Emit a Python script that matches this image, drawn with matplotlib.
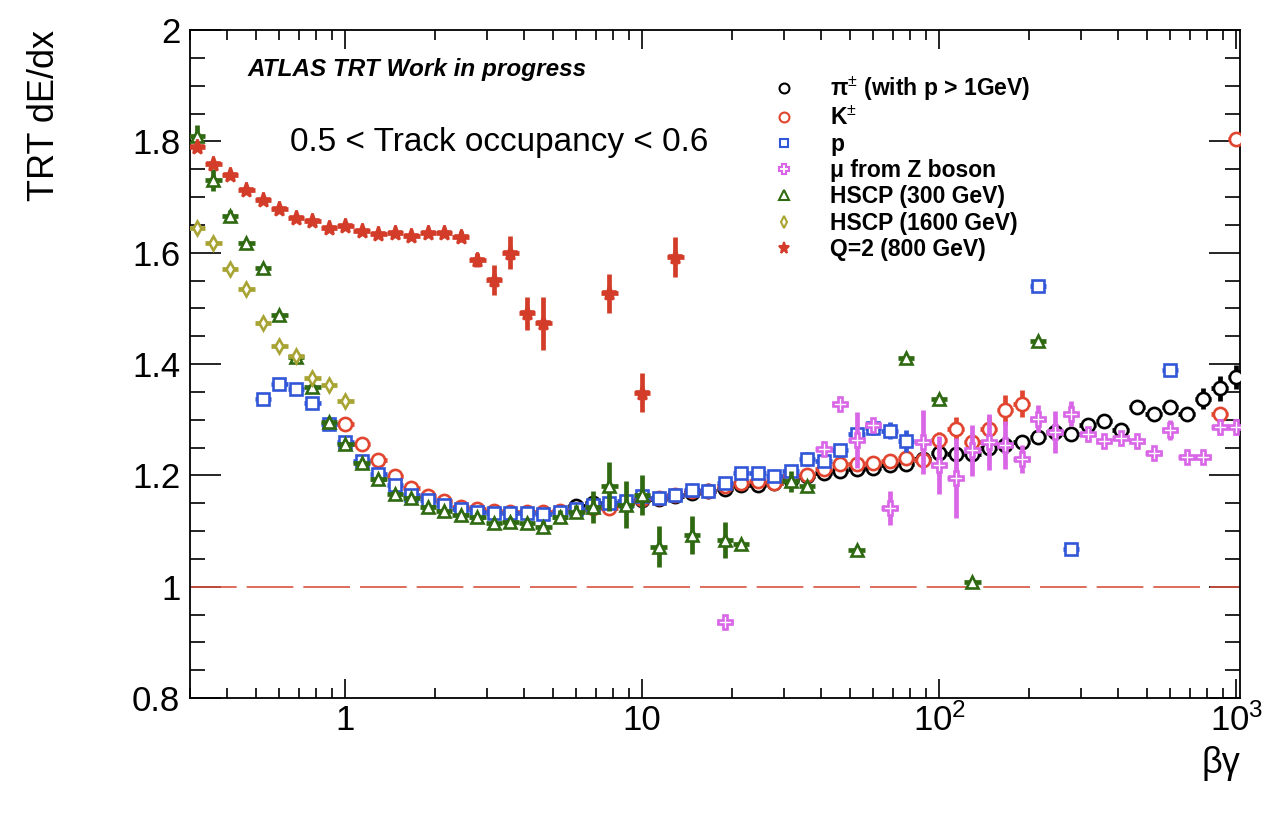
import numpy as np
import matplotlib.pyplot as plt
from matplotlib.lines import Line2D
from matplotlib.ticker import MultipleLocator, LogLocator, NullFormatter

plt.rcParams["font.family"] = ["Liberation Sans", "DejaVu Sans"]
plt.rcParams["mathtext.fontset"] = "custom"
plt.rcParams["mathtext.rm"] = "Liberation Sans"
plt.rcParams["mathtext.it"] = "Liberation Sans:italic"
plt.rcParams["mathtext.bf"] = "Liberation Sans:bold"

# beta*gamma bin centres, index 0 is bin -9 (18 bins per decade)
bg_bins = [0.3162, 0.3594, 0.4084, 0.4642, 0.5275, 0.5995, 0.6813, 0.7743, 0.8799,
           1.000, 1.136, 1.292, 1.468, 1.668, 1.896, 2.154, 2.448, 2.783, 3.162,
           3.594, 4.084, 4.642, 5.275, 5.995, 6.813, 7.743, 8.799, 10.00, 11.36,
           12.92, 14.68, 16.68, 18.96, 21.54, 24.48, 27.83, 31.62, 35.94, 40.84,
           46.42, 52.75, 59.95, 68.13, 77.43, 87.99, 100.0, 113.6, 129.2, 146.8,
           166.8, 189.6, 215.4, 244.8, 278.3, 316.2, 359.4, 408.4, 464.2, 527.5,
           599.5, 681.3, 774.3, 879.9, 1000.0]

# pions (p > 1 GeV)
pi_bins = list(range(14, 55))
pi_y = [1.145, 1.150, 1.148, 1.150, 1.156, 1.158, 1.163, 1.168, 1.171, 1.175,
        1.183, 1.183, 1.187, 1.192, 1.198, 1.205, 1.207, 1.211, 1.213, 1.219,
        1.221, 1.230, 1.241, 1.238, 1.238, 1.249, 1.255, 1.260, 1.268, 1.277,
        1.275, 1.291, 1.298, 1.281, 1.323, 1.310, 1.323, 1.310, 1.338, 1.356, 1.377]
pi_err = [0.004, 0.004, 0.004, 0.004, 0.004, 0.004, 0.004, 0.004, 0.004, 0.004,
          0.004, 0.004, 0.004, 0.004, 0.004, 0.004, 0.004, 0.004, 0.004, 0.004,
          0.004, 0.004, 0.004, 0.004, 0.004, 0.004, 0.004, 0.004, 0.005, 0.005,
          0.005, 0.007, 0.007, 0.007, 0.012, 0.012, 0.012, 0.012, 0.018, 0.022, 0.022]

# kaons
k_bins = list(range(0, 42)) + [53, 54]
k_y = [1.292, 1.257, 1.228, 1.199, 1.178, 1.162, 1.153, 1.143, 1.140, 1.136,
       1.135, 1.134, 1.134, 1.136, 1.138, 1.141, 1.141, 1.150, 1.157, 1.159,
       1.165, 1.171, 1.172, 1.180, 1.186, 1.189, 1.186, 1.198, 1.201, 1.211,
       1.221, 1.221, 1.222, 1.225, 1.232, 1.228, 1.263, 1.284, 1.260, 1.284,
       1.317, 1.329, 1.310, 1.804]
k_err = [0.003, 0.003, 0.003, 0.003, 0.003, 0.003, 0.003, 0.003, 0.003, 0.003,
         0.003, 0.003, 0.003, 0.003, 0.003, 0.003, 0.003, 0.003, 0.003, 0.003,
         0.003, 0.003, 0.003, 0.003, 0.003, 0.003, 0.003, 0.003, 0.004, 0.004,
         0.006, 0.006, 0.006, 0.006, 0.010, 0.015, 0.015, 0.020, 0.015, 0.022,
         0.027, 0.025, 0.008, 0.006]

# protons
p_bins = list(range(-5, 35)) + [42, 44, 50]
p_y = [1.337, 1.364, 1.355, 1.330, 1.293,
       1.259, 1.225, 1.203, 1.183, 1.165, 1.156, 1.147, 1.139, 1.135, 1.132,
       1.132, 1.132, 1.131, 1.135, 1.140, 1.147, 1.150, 1.153, 1.162, 1.160,
       1.165, 1.174, 1.172, 1.186, 1.205, 1.204, 1.198, 1.207, 1.229, 1.225,
       1.245, 1.275, 1.285, 1.280, 1.262,
       1.541, 1.068, 1.390]
p_err = [0.005, 0.005, 0.005, 0.005, 0.005,
         0.004, 0.004, 0.004, 0.004, 0.004, 0.004, 0.004, 0.004, 0.004, 0.004,
         0.004, 0.004, 0.004, 0.004, 0.004, 0.004, 0.004, 0.004, 0.004, 0.004,
         0.005, 0.005, 0.005, 0.006, 0.008, 0.008, 0.008, 0.008, 0.013, 0.010,
         0.012, 0.012, 0.012, 0.015, 0.020,
         0.005, 0.005, 0.005]

# muons from Z
mu_bins = [23, 29, 30, 31, 32, 33] + list(range(35, 55))
mu_y = [0.936, 1.248, 1.329, 1.263, 1.290, 1.141,
        1.260, 1.219, 1.195, 1.245, 1.260, 1.255, 1.230, 1.302, 1.278, 1.311,
        1.275, 1.262, 1.267, 1.262, 1.241, 1.281, 1.233, 1.233, 1.287, 1.287]
mu_err = [0.006, 0.006, 0.005, 0.050, 0.008, 0.031,
          0.058, 0.052, 0.072, 0.046, 0.051, 0.043, 0.025, 0.025, 0.038, 0.023,
          0.012, 0.010, 0.010, 0.008, 0.008, 0.018, 0.008, 0.008, 0.015, 0.015]

# HSCP 300 GeV
h300_bins = list(range(-9, 20)) + [21, 23, 24, 27, 28, 31, 34, 36, 38, 42]
h300_y = [1.810, 1.730, 1.666, 1.617, 1.572, 1.488, 1.413, 1.359, 1.296,
          1.257, 1.223, 1.193, 1.166, 1.160, 1.143, 1.136, 1.129, 1.125, 1.114,
          1.117, 1.114, 1.108, 1.126, 1.135, 1.143, 1.180, 1.147, 1.165, 1.072,
          1.093, 1.084, 1.077, 1.189, 1.180, 1.066, 1.411, 1.338, 1.008, 1.441]
h300_err = [0.020, 0.020, 0.010, 0.008, 0.008, 0.006, 0.006, 0.005, 0.005,
            0.004, 0.004, 0.004, 0.004, 0.004, 0.004, 0.004, 0.004, 0.005, 0.005,
            0.008, 0.008, 0.010, 0.012, 0.012, 0.028, 0.044, 0.042, 0.036, 0.037,
            0.034, 0.033, 0.005, 0.019, 0.006, 0.005, 0.005, 0.005, 0.005, 0.005]

# HSCP 1600 GeV
h1600_bins = list(range(-9, 1))
h1600_y = [1.644, 1.618, 1.570, 1.534, 1.474, 1.432, 1.415, 1.374, 1.362, 1.334]
h1600_err = [0.005, 0.005, 0.005, 0.005, 0.005, 0.005, 0.005, 0.005, 0.005, 0.005]

# Q=2 800 GeV
q2_bins = list(range(-9, 13)) + [16, 18, 20]
q2_y = [1.790, 1.760, 1.740, 1.712, 1.695, 1.678, 1.663, 1.657, 1.645, 1.648,
        1.639, 1.633, 1.635, 1.630, 1.636, 1.636, 1.629, 1.587, 1.551, 1.600,
        1.491, 1.473, 1.527, 1.348, 1.592]
q2_err = [0.006, 0.005, 0.004, 0.004, 0.004, 0.004, 0.004, 0.004, 0.004, 0.004,
          0.004, 0.004, 0.004, 0.005, 0.006, 0.008, 0.010, 0.012, 0.027, 0.030,
          0.030, 0.048, 0.035, 0.035, 0.036]

labels = [r"π$^{\pm}$ (with p > 1GeV)", r"K$^{\pm}$", "p", "μ from Z boson",
          "HSCP (300 GeV)", "HSCP (1600 GeV)", "Q=2 (800 GeV)"]

yticks = [0.8, 1.0, 1.2, 1.4, 1.6, 1.8, 2.0]
ytick_labels = ["0.8", "1", "1.2", "1.4", "1.6", "1.8", "2"]
xticks = [1, 10, 100, 1000]
xtick_labels = ["1", "10", r"10$^{2}$", r"10$^{3}$"]

series = [
    (pi_bins, pi_y, pi_err, "o", "#000000", 9.5, True),
    (k_bins, k_y, k_err, "o", "#e2452f", 9.5, True),
    (p_bins, p_y, p_err, "s", "#3156d8", 8.5, True),
    (mu_bins, mu_y, mu_err, "P", "#d966e6", 10, True),
    (h300_bins, h300_y, h300_err, "^", "#2f6a12", 9, True),
    (h1600_bins, h1600_y, h1600_err, "d", "#a8a434", 7.5, True),
    (q2_bins, q2_y, q2_err, "*", "#d23c28", 11, False),
]

fig = plt.figure(figsize=(12.85, 8.13), dpi=100)
ax = fig.add_axes([190 / 1285, 115 / 813, 1050 / 1285, 668 / 813])

half = 10 ** (1 / 36)
handles = []
for i, (bins, y, err, mk, col, ms, is_open) in enumerate(series):
    x = np.array([bg_bins[b + 9] for b in bins])
    xerr = [x - x / half, x * half - x]
    ax.errorbar(x, y, yerr=err, xerr=xerr, fmt=mk, ls="none", color=col,
                ms=ms, mfc="white" if is_open else col, mec=col, mew=1.9,
                elinewidth=3.4, capsize=0, zorder=3 + i)
    handles.append(Line2D([], [], marker=mk, ls="none", color=col,
                          ms=ms * 0.75, mfc="white" if is_open else col,
                          mec=col, mew=1.5))

ax.axhline(1.0, color="#d9533f", lw=1.2, dashes=(28, 6), zorder=2)

ax.set_xscale("log")
ax.set_xlim(0.3, 1030)
ax.set_ylim(0.8, 2.0)

ax.set_xticks(xticks, xtick_labels)
ax.xaxis.set_minor_locator(LogLocator(base=10, subs=range(2, 10)))
ax.xaxis.set_minor_formatter(NullFormatter())
ax.set_yticks(yticks, ytick_labels)
ax.yaxis.set_minor_locator(MultipleLocator(0.05))

ax.tick_params(which="both", direction="in", top=True, right=True, width=1.2,
               labelsize=25)
ax.tick_params(axis="y", which="major", length=22, pad=7)
ax.tick_params(axis="y", which="minor", length=11)
ax.tick_params(axis="x", which="major", length=14, pad=4)
ax.tick_params(axis="x", which="minor", length=7)
for s in ax.spines.values():
    s.set_linewidth(1.3)

ax.set_ylabel("TRT dE/dx", fontsize=26, loc="top")
ax.yaxis.set_label_coords(-0.122, 1.0)
ax.set_xlabel("βγ", fontsize=26, loc="right")
ax.xaxis.set_label_coords(1.0, -0.072)

ax.text(0.055, 0.941, "ATLAS TRT Work in progress", transform=ax.transAxes,
        fontsize=17.5, fontweight="bold", style="italic", va="center")
ax.text(0.095, 0.832, "0.5 < Track occupancy < 0.6", transform=ax.transAxes,
        fontsize=24, va="center")

fig.legend(handles, labels, loc="upper left", bbox_to_anchor=(773 / 1285, 1 - 75 / 813),
           frameon=False, prop={"size": 16.5, "weight": "bold"}, handlelength=1.0,
           handletextpad=1.5, labelspacing=0.14, borderpad=0, borderaxespad=0)

fig.savefig("out.png", dpi=100)
